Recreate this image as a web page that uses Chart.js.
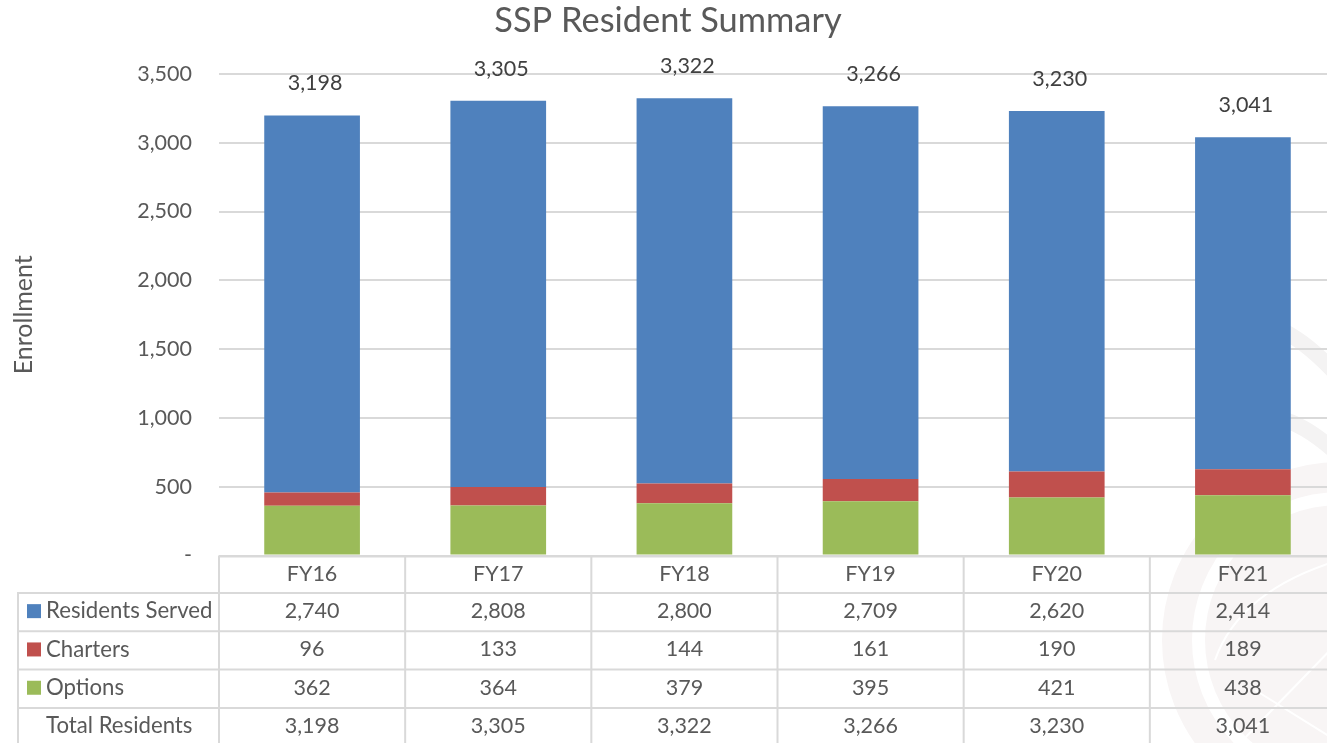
<!DOCTYPE html>
<html><head><meta charset="utf-8">
<style>html,body{margin:0;padding:0;background:#fff;overflow:hidden;width:1327px;height:743px}
#w{position:absolute;left:0;top:0;width:1340px;height:743px}</style>
<script src="https://cdn.jsdelivr.net/npm/chart.js@4"></script>
</head><body><div id="w"><canvas id="c" width="1340" height="743"></canvas></div>
<script>
const categories=["FY16","FY17","FY18","FY19","FY20","FY21"];
const residentsServed=[2740,2808,2800,2709,2620,2414];
const charters=[96,133,144,161,190,189];
const options_=[362,364,379,395,421,438];
const totalResidents=[3198,3305,3322,3266,3230,3041];
const yTicks=[0,500,1000,1500,2000,2500,3000,3500];
const FONT='Lato,"Open Sans",sans-serif';
const SIZE=21.5;
const TEXT='#595959',GRID='#d9d9d9';
const fmt=v=>v===0?'-':v.toLocaleString('en-US');
const rows=[
 {name:'Residents Served',color:'#4f81bd',values:residentsServed},
 {name:'Charters',color:'#c0504d',values:charters},
 {name:'Options',color:'#9bbb59',values:options_},
 {name:'Total Residents',color:null,values:totalResidents}];

const watermark={id:'watermark',beforeDraw(ch){
 const g=ch.ctx;g.save();
 const c='#f8f5f5';
 g.strokeStyle=c;g.fillStyle=c;
 g.lineWidth=30;g.beginPath();g.arc(1340,640,163,0,Math.PI*2);g.stroke();
 g.beginPath();g.arc(1340,640,135,0,Math.PI*2);g.fill();
 g.strokeStyle='#ffffff';g.lineWidth=2;
 g.beginPath();g.moveTo(1215,660);g.quadraticCurveTo(1240,590,1340,560);g.stroke();
 g.beginPath();g.moveTo(1240,743);g.lineTo(1340,640);g.stroke();
 g.beginPath();g.moveTo(1255,690);g.lineTo(1340,743);g.stroke();
 g.strokeStyle='#f4f3f3';g.lineWidth=16;g.lineCap='butt';
 g.beginPath();g.moveTo(1285,332);g.quadraticCurveTo(1310,345,1340,378);g.stroke();
 g.beginPath();g.moveTo(1285,420);g.quadraticCurveTo(1310,428,1340,456);g.stroke();
 g.restore();
}};

const extras={id:'extras',afterDraw(ch){
 const g=ch.ctx,x=ch.scales.x,y=ch.scales.y;
 const base=y.bottom,step=38.3,tableLeft=18,rowTop=i=>593+i*step,bottom=743;
 g.save();
 const totalMeta=ch.getDatasetMeta(3);
 g.font=SIZE+'px '+FONT;g.fillStyle='#404040';g.textAlign='center';g.textBaseline='middle';
 totalMeta.data.forEach((p,i)=>g.fillText(fmt(totalResidents[i]),p.x+3,p.y-32));
 g.strokeStyle=GRID;g.lineWidth=2;g.beginPath();
 const right=ch.width;
 g.moveTo(x.left,base+1);g.lineTo(right,base+1);
 for(let i=0;i<4;i++){g.moveTo(tableLeft,rowTop(i));g.lineTo(right,rowTop(i));}
 g.moveTo(tableLeft,rowTop(0)-1);g.lineTo(tableLeft,bottom);
 const cw=(x.right-x.left)/categories.length;
 for(let i=0;i<categories.length;i++){g.moveTo(x.left+i*cw,base);g.lineTo(x.left+i*cw,bottom);}
 g.stroke();
 rows.forEach((r,ri)=>{
  const cy=rowTop(ri)+step/2-1;
  if(r.color){g.fillStyle=r.color;g.fillRect(27,cy-7,14,14);}
  g.font='22.2px '+FONT;g.fillStyle=TEXT;g.textAlign='left';g.fillText(r.name,46,cy);
  g.font=SIZE+'px '+FONT;g.textAlign='center';
  r.values.forEach((v,i)=>g.fillText(fmt(v),x.getPixelForValue(i),cy));
 });
 g.restore();
}};

new Chart(document.getElementById('c'),{
 type:'bar',
 data:{labels:categories,datasets:[
  {label:'Options',data:options_,backgroundColor:'#9bbb59',stack:'s',order:2},
  {label:'Charters',data:charters,backgroundColor:'#c0504d',stack:'s',order:2},
  {label:'Residents Served',data:residentsServed,backgroundColor:'#4f81bd',stack:'s',order:2},
  {label:'Total Residents',data:totalResidents,type:'line',showLine:false,pointRadius:0,order:1}
 ]},
 options:{responsive:false,animation:false,
  layout:{padding:{left:0,right:4,top:0,bottom:0}},
  datasets:{bar:{categoryPercentage:0.514,barPercentage:1}},
  plugins:{legend:{display:false},tooltip:{enabled:false},
   title:{display:true,text:'SSP Resident Summary',color:TEXT,
     font:{family:FONT,size:34.4,weight:'normal',lineHeight:1.2},
     padding:{top:0,bottom:32.7}}},
  scales:{
   x:{stacked:true,grid:{display:false},border:{display:false},
     afterFit(s){s.height=187.5;},
     ticks:{color:TEXT,font:{family:FONT,size:SIZE},padding:-2,maxRotation:0,autoSkip:false}},
   y:{stacked:true,min:0,max:3500,
     afterBuildTicks(s){s.ticks=yTicks.map(v=>({value:v}));},
     afterFit(s){s.width=219;},
     title:{display:true,text:'Enrollment',color:TEXT,
       font:{family:FONT,size:25,weight:'normal',lineHeight:1.2},padding:{top:9,bottom:0}},
     grid:{color:GRID,lineWidth:2,drawTicks:false},border:{display:false},
     ticks:{callback:fmt,color:TEXT,font:{family:FONT,size:SIZE},padding:27,autoSkip:false}}
  }},
 plugins:[watermark,extras]
});
</script></body></html>
